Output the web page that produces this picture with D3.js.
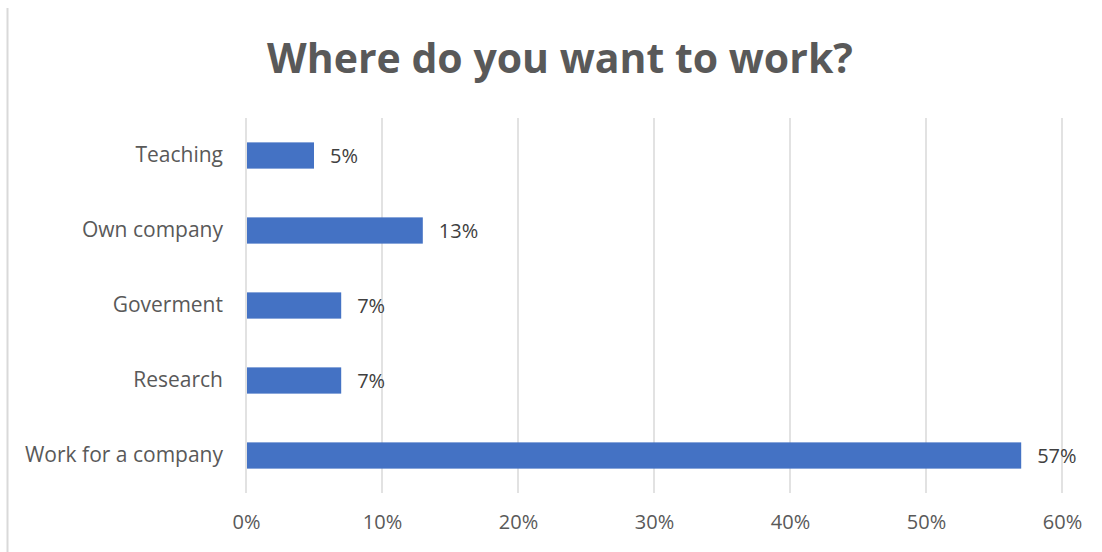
<!DOCTYPE html>
<html>
<head>
<meta charset="utf-8">
<script src="https://cdn.jsdelivr.net/npm/d3@7"></script>
<style>
  body { margin: 0; background: #fff; }
  svg { display: block; }
</style>
</head>
<body>
<div id="chart"></div>
<script>
const categories = ['Teaching', 'Own company', 'Goverment', 'Research', 'Work for a company'];
const values = [0.05, 0.13, 0.07, 0.07, 0.57];
const ticks = [0, 0.1, 0.2, 0.3, 0.4, 0.5, 0.6];

const W = 1102, H = 552;
const margin = { top: 118, right: 40, bottom: 59, left: 246 };
const FONT = '"Open Sans", "Liberation Sans", sans-serif';

const svg = d3.select('#chart')
  .append('svg')
  .attr('width', W)
  .attr('height', H)
  .attr('font-family', FONT);

// chart frame left edge
svg.append('line')
  .attr('x1', 7.5).attr('x2', 7.5)
  .attr('y1', 8).attr('y2', H)
  .attr('stroke', '#d9d9d9')
  .attr('stroke-width', 2);

svg.append('text')
  .attr('x', 560)
  .attr('y', 73)
  .attr('text-anchor', 'middle')
  .attr('font-size', 41)
  .attr('font-weight', 'bold')
  .attr('fill', '#595959')
  .text('Where do you want to work?');

const x = d3.scaleLinear()
  .domain([0, 0.6])
  .range([margin.left, 1062]);

const y = d3.scaleBand()
  .domain(categories)
  .range([margin.top, H - margin.bottom])
  .paddingInner(0.65)
  .paddingOuter(0.325);

// gridlines
svg.append('g')
  .selectAll('line')
  .data(ticks)
  .join('line')
  .attr('x1', d => x(d)).attr('x2', d => x(d))
  .attr('y1', margin.top).attr('y2', H - margin.bottom)
  .attr('stroke', '#d9d9d9')
  .attr('stroke-width', 1.5);

// x axis labels
const xAxis = svg.append('g')
  .attr('transform', `translate(0,${H - margin.bottom})`)
  .call(d3.axisBottom(x).tickValues(ticks).tickFormat(d3.format('.0%')).tickSize(0).tickPadding(22));
xAxis.select('.domain').remove();
xAxis.selectAll('text')
  .attr('font-family', FONT)
  .attr('font-size', 20)
  .attr('fill', '#595959');

// y axis labels
const yAxis = svg.append('g')
  .attr('transform', `translate(${margin.left},0)`)
  .call(d3.axisLeft(y).tickSize(0).tickPadding(23));
yAxis.select('.domain').remove();
yAxis.selectAll('text')
  .attr('font-family', FONT)
  .attr('font-size', 21)
  .attr('fill', '#595959');

const rows = categories.map((c, i) => ({ c, v: values[i] }));

svg.append('g')
  .selectAll('rect')
  .data(rows)
  .join('rect')
  .attr('x', x(0) + 1)
  .attr('y', d => y(d.c))
  .attr('width', d => x(d.v) - x(0) - 1)
  .attr('height', y.bandwidth())
  .attr('fill', '#4472c4');

svg.append('g')
  .selectAll('text')
  .data(rows)
  .join('text')
  .attr('x', d => x(d.v) + 16)
  .attr('y', d => y(d.c) + y.bandwidth() / 2)
  .attr('dy', '0.35em')
  .attr('font-size', 20)
  .attr('fill', '#404040')
  .text(d => d3.format('.0%')(d.v));
</script>
</body>
</html>
